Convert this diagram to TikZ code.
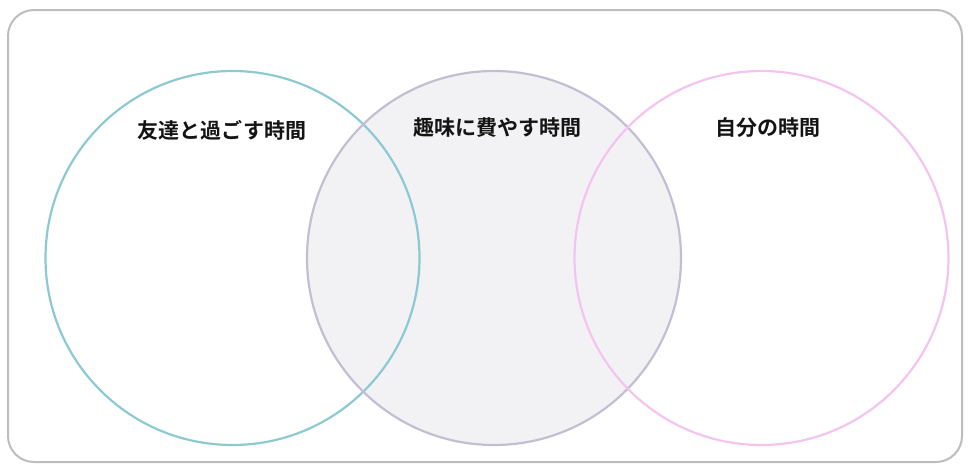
\documentclass[tikz,border=0pt]{standalone}
\usepackage{fontspec}
\newfontfamily\jpfont{Noto Sans CJK JP}[BoldFont={Noto Sans CJK JP Bold}]
\definecolor{frameGray}{HTML}{BDBDBD}
\definecolor{tealC}{HTML}{8DC9D2}
\definecolor{lilacC}{HTML}{C4BED3}
\definecolor{pinkC}{HTML}{F4C4F0}
\definecolor{fillM}{HTML}{F2F2F5}
\tikzset{
  setnode/.style = {circle, inner sep=0pt, minimum size=374pt, line width=2.2pt},
  % left: friends, middle: hobby, right: own time
  set_L/.style = {setnode, draw=tealC},
  set_M/.style = {setnode, draw=lilacC},
  set_R/.style = {setnode, draw=pinkC},
  label_T/.style = {font=\jpfont\bfseries\fontsize{21pt}{24pt}\selectfont, text=black!92, inner sep=0pt}
}

\begin{document}
\begin{tikzpicture}[x=1pt, y=-1pt]
    \useasboundingbox (0,0) rectangle (969,469);
    % outer frame
    \draw[frameGray, line width=2pt, rounded corners=26pt] (8,10) rectangle (962,462);
    % middle fill first, strokes on top
    \fill[fillM] (494,258) circle (187pt);
    % Set L - friends:
    \node [set_L] (setL) at (232.5,258) {};
    % Set M - hobby:
    \node [set_M] (setM) at (494,258) {};
    % Set R - own time:
    \node [set_R] (setR) at (761.5,258) {};
    % labels
    \node [label_T] (labL) at (222,130) {友達と過ごす時間};
    \node [label_T] (labM) at (497,128) {趣味に費やす時間};
    \node [label_T] (labR) at (768,128) {自分の時間};
\end{tikzpicture}
\end{document}
